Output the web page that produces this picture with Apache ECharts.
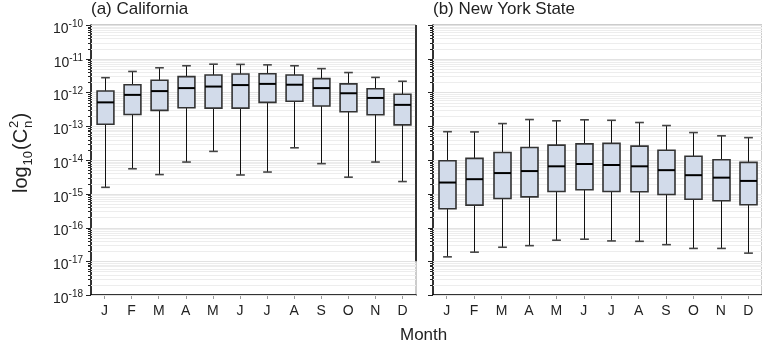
<!DOCTYPE html>
<html><head><meta charset="utf-8">
<script src="https://cdn.jsdelivr.net/npm/echarts@6/dist/echarts.min.js"></script>
<style>html,body{margin:0;padding:0;background:#fff}#c{width:762px;height:352px}</style>
</head><body><div id="c"></div>
<script>
const months = ['J','F','M','A','M','J','J','A','S','O','N','D'];
const yExponents = ['-18','-17','-16','-15','-14','-13','-12','-11','-10'];

// (a) California
const caMin = [1.55e-15, 5.5e-15, 3.7e-15, 8.7e-15, 1.8e-14, 3.6e-15, 4.4e-15, 2.3e-14, 7.8e-15, 3.1e-15, 8.7e-15, 2.3e-15];
const caQ1  = [1.15e-13, 2.24e-13, 2.95e-13, 3.55e-13, 3.45e-13, 3.45e-13, 5.1e-13, 5.5e-13, 4.0e-13, 2.7e-13, 2.2e-13, 1.1e-13];
const caMed = [5.1e-13, 8.5e-13, 1.1e-12, 1.35e-12, 1.5e-12, 1.66e-12, 1.8e-12, 1.7e-12, 1.35e-12, 9.5e-13, 6.9e-13, 4.3e-13];
const caQ3  = [1.11e-12, 1.7e-12, 2.3e-12, 2.95e-12, 3.3e-12, 3.55e-12, 3.6e-12, 3.3e-12, 2.57e-12, 1.8e-12, 1.29e-12, 8.9e-13];
const caMax = [2.75e-12, 4.2e-12, 5.4e-12, 6.2e-12, 6.9e-12, 6.8e-12, 6.6e-12, 6.2e-12, 5.1e-12, 3.9e-12, 2.8e-12, 2.15e-12];

// (b) New York State
const nyMin = [1.35e-17, 1.86e-17, 2.6e-17, 2.9e-17, 4.2e-17, 4.5e-17, 4.0e-17, 3.9e-17, 3.1e-17, 2.4e-17, 2.4e-17, 1.74e-17];
const nyQ1  = [3.6e-16, 4.6e-16, 7.2e-16, 8.1e-16, 1.17e-15, 1.32e-15, 1.17e-15, 1.15e-15, 9.5e-16, 6.9e-16, 6.2e-16, 4.7e-16];
const nyMed = [2.15e-15, 2.7e-15, 4.1e-15, 4.7e-15, 6.5e-15, 7.6e-15, 7.1e-15, 6.5e-15, 5.0e-15, 3.55e-15, 3.0e-15, 2.4e-15];
const nyQ3  = [9.5e-15, 1.12e-14, 1.66e-14, 2.35e-14, 2.75e-14, 3.0e-14, 3.1e-14, 2.57e-14, 1.95e-14, 1.29e-14, 1.02e-14, 8.5e-15];
const nyMax = [6.9e-14, 6.8e-14, 1.2e-13, 1.58e-13, 1.45e-13, 1.55e-13, 1.5e-13, 1.29e-13, 1.05e-13, 6.5e-14, 5.2e-14, 4.6e-14];

const FONT = "'Liberation Sans', Arial, Helvetica, sans-serif";

function boxData(mn, q1, md, q3, mx) {
  return months.map((m, i) => [i, mn[i], q1[i], md[i], q3[i], mx[i]]);
}

// grid decoration: decade and in-between (2..9) levels of the log axis
const gridLevels = [];
for (let e = -18; e < -10; e++) {
  for (let k = 1; k <= 9; k++) gridLevels.push([0, k * Math.pow(10, e), k === 1 ? 1 : 0]);
}
gridLevels.push([0, 1e-10, 1]);

function renderGrid(params, api) {
  const cs = params.coordSys;
  const y = Math.round(api.coord([0, api.value(1)])[1]) + 0.5;
  const major = api.value(2) === 1;
  return {type: 'group', children: [
    {type: 'line', shape: {x1: cs.x, y1: y, x2: cs.x + cs.width, y2: y},
     style: {stroke: major ? '#e2e2e2' : '#ededed', lineWidth: 1}},
    {type: 'line', shape: {x1: cs.x - (major ? 5 : 3), y1: y, x2: cs.x, y2: y},
     style: {stroke: '#222', lineWidth: 1}}
  ]};
}

function renderBox(params, api) {
  const i = api.value(0);
  const pMed = api.coord([i, api.value(3)]);
  const band = api.coord([1, api.value(3)])[0] - api.coord([0, api.value(3)])[0];
  const x = Math.round(pMed[0]) + 0.5;
  const yMin = api.coord([i, api.value(1)])[1];
  const yQ1 = api.coord([i, api.value(2)])[1];
  const yMed = pMed[1];
  const yQ3 = api.coord([i, api.value(4)])[1];
  const yMax = api.coord([i, api.value(5)])[1];
  const hw = band * 0.31;
  const cw = band * 0.16;
  return {type: 'group', children: [
    {type: 'line', shape: {x1: x, y1: yMax, x2: x, y2: yQ3}, style: {stroke: '#111', lineWidth: 1}},
    {type: 'line', shape: {x1: x, y1: yQ1, x2: x, y2: yMin}, style: {stroke: '#111', lineWidth: 1}},
    {type: 'line', shape: {x1: x - cw, y1: yMax, x2: x + cw, y2: yMax}, style: {stroke: '#444', lineWidth: 1.6}},
    {type: 'line', shape: {x1: x - cw, y1: yMin, x2: x + cw, y2: yMin}, style: {stroke: '#444', lineWidth: 1.6}},
    {type: 'rect', shape: {x: x - hw, y: yQ3, width: 2 * hw, height: yQ1 - yQ3},
     style: {fill: '#d2dbea', stroke: '#333', lineWidth: 1.6}},
    {type: 'line', shape: {x1: x - hw, y1: yMed, x2: x + hw, y2: yMed}, style: {stroke: '#000', lineWidth: 2}}
  ]};
}

function renderFrame(params, api) {
  const cs = params.coordSys;
  const yEnd = api.coord([0, api.value(1)])[1];
  const x = cs.x + cs.width;
  return {type: 'line', shape: {x1: x, y1: cs.y, x2: x, y2: yEnd}, style: {stroke: '#000', lineWidth: 1.5}};
}

function yLabel(v) {
  const e = Math.round(Math.log10(v));
  const s = yExponents.find(t => Number(t) === e) || String(e);
  return '{b|10}{s|' + s + '}';
}

function xAxisCfg(gi) {
  return {
    type: 'category', gridIndex: gi, data: months, boundaryGap: true,
    axisLine: {show: true, lineStyle: {color: '#000', width: 1.5}},
    axisTick: {show: true, alignWithLabel: true, length: 4, lineStyle: {color: '#999'}},
    axisLabel: {fontSize: 14, fontFamily: FONT, color: '#222', margin: 9},
    splitLine: {show: false}
  };
}
function yAxisCfg(gi, showLabels) {
  return {
    type: 'log', logBase: 10, gridIndex: gi, min: 1e-18, max: 1e-10, splitNumber: 8,
    axisLine: {show: true, lineStyle: {color: '#000', width: 1.5}},
    axisTick: {show: false},
    splitLine: {show: false},
    axisLabel: {
      show: showLabels, margin: 8, formatter: yLabel, padding: [5, 0, 0, 0],
      rich: {
        b: {fontSize: 14, fontFamily: FONT, color: '#222', lineHeight: 17, verticalAlign: 'bottom'},
        s: {fontSize: 10, fontFamily: FONT, color: '#222', lineHeight: 10, verticalAlign: 'top'}
      }
    }
  };
}

const chart = echarts.init(document.getElementById('c'), null, {renderer: 'canvas'});
chart.setOption({
  animation: false,
  backgroundColor: '#fff',
  title: [
    {text: '(a) California', left: 91, top: 1, padding: 0, textStyle: {fontSize: 17, fontWeight: 'normal', fontFamily: FONT, color: '#222'}},
    {text: '(b) New York State', left: 433, top: 1, padding: 0, textStyle: {fontSize: 17, fontWeight: 'normal', fontFamily: FONT, color: '#222'}},
    {text: 'Month', left: 400, top: 327, padding: 0, textStyle: {fontSize: 17, fontWeight: 'normal', fontFamily: FONT, color: '#222'}}
  ],
  grid: [
    {left: 91, top: 25, width: 325, height: 270, show: true, borderColor: '#999', borderWidth: 1, containLabel: false},
    {left: 433, top: 25, width: 333, height: 270, show: true, borderColor: '#999', borderWidth: 1, containLabel: false}
  ],
  xAxis: [xAxisCfg(0), xAxisCfg(1)],
  yAxis: [yAxisCfg(0, true), yAxisCfg(1, false)],
  graphic: [{
    type: 'group', x: 31, y: 193, rotation: Math.PI / 2,
    children: [
      {type: 'text', x: 0, y: 0, style: {text: 'log', font: '20px ' + FONT, fill: '#222', verticalAlign: 'bottom'}},
      {type: 'text', x: 27.5, y: 4, style: {text: '10', font: '13px ' + FONT, fill: '#222', verticalAlign: 'bottom'}},
      {type: 'text', x: 43, y: 0, style: {text: '(C', font: '20px ' + FONT, fill: '#222', verticalAlign: 'bottom'}},
      {type: 'text', x: 65, y: 4, style: {text: 'n', font: '13px ' + FONT, fill: '#222', verticalAlign: 'bottom'}},
      {type: 'text', x: 65, y: -10, style: {text: '2', font: '13px ' + FONT, fill: '#222', verticalAlign: 'bottom'}},
      {type: 'text', x: 73.5, y: 0, style: {text: ')', font: '20px ' + FONT, fill: '#222', verticalAlign: 'bottom'}}
    ]
  }],
  series: [
    {type: 'custom', xAxisIndex: 0, yAxisIndex: 0, silent: true, clip: false, z: 1,
     encode: {x: 0, y: 1}, renderItem: renderGrid, data: gridLevels},
    {type: 'custom', xAxisIndex: 1, yAxisIndex: 1, silent: true, clip: false, z: 1,
     encode: {x: 0, y: 1}, renderItem: renderGrid, data: gridLevels},
    {type: 'custom', xAxisIndex: 0, yAxisIndex: 0, silent: true, clip: false, z: 3,
     encode: {x: 0, y: 1}, renderItem: renderFrame, data: [[0, 1e-17]]},
    {type: 'custom', name: 'California', xAxisIndex: 0, yAxisIndex: 0, z: 5,
     encode: {x: 0, y: [1, 2, 3, 4, 5]}, renderItem: renderBox, data: boxData(caMin, caQ1, caMed, caQ3, caMax)},
    {type: 'custom', name: 'New York State', xAxisIndex: 1, yAxisIndex: 1, z: 5,
     encode: {x: 0, y: [1, 2, 3, 4, 5]}, renderItem: renderBox, data: boxData(nyMin, nyQ1, nyMed, nyQ3, nyMax)}
  ]
});
</script></body></html>
